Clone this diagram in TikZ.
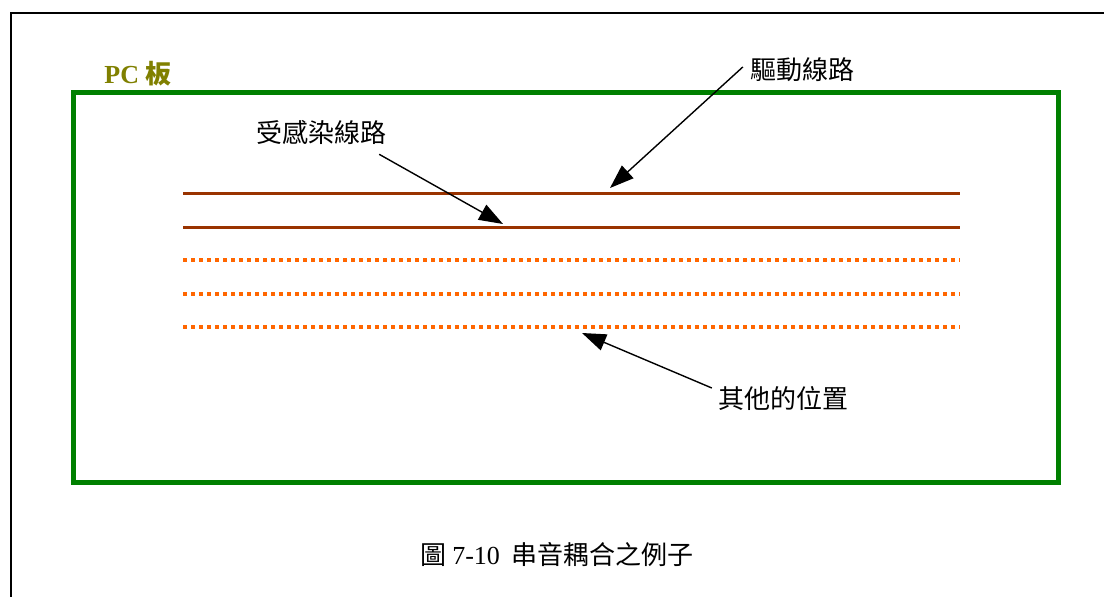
\documentclass[tikz,border=0pt]{standalone}
\usepackage{fontspec}
\setmainfont{Liberation Serif}
\newfontfamily\cjk{Noto Sans CJK TC}
\usepackage{xcolor}
\usetikzlibrary{arrows.meta,positioning,calc}
\definecolor{boardgreen}{RGB}{0,128,0}
\definecolor{boardolive}{RGB}{128,128,0}
\definecolor{tracebrown}{RGB}{153,51,0}
\definecolor{traceorange}{RGB}{255,102,0}

\begin{document}
\begin{tikzpicture}[
            x=1pt, y=-1pt,
            every node/.style={font=\fontsize{26}{30}\selectfont\cjk, inner sep=0pt},
            board/.style={draw=boardgreen, line width=5pt},
            trace/.style={draw=tracebrown, line width=3pt},
            otrace/.style={draw=traceorange, line width=3.5pt, dash pattern=on 3.5pt off 4.5pt},
            pointer/.style={draw, line width=1.4pt, -{Triangle[length=24pt,width=17pt]}},
        ]
            \useasboundingbox (0,0) rectangle (1104,597);
            \draw[line width=2pt] (11,597) -- (11,13) -- (1104,13);
            \draw[board] (73,92) rectangle (1058,482);

            % traces
            \draw[trace] (183,193) -- (960,193);
            \draw[trace] (183,227) -- (960,227);
            \foreach \y in {260,294,327}
                \draw[otrace] (183,\y) -- (960,\y);

            \node[text=boardolive, font=\fontsize{26}{30}\selectfont\bfseries] (pc) at (138,74) {PC {\cjk 板}};
            \node (drive) at (802,70) {驅動線路};
            \node (victim) at (321,133) {受感染線路};
            \node (other) at (783,398) {其他的位置};
            \node (caption) at (557,555) {圖 {\rmfamily 7-10}\ \ 串音耦合之例子};

            \coordinate (drivetip) at (610,188);
            \coordinate (victimtip) at (503,224);
            \coordinate (othertip) at (582,333);

            \draw[pointer] ([xshift=-7pt,yshift=3pt]drive.west) -- (drivetip);
            \draw[pointer] ([xshift=-7pt,yshift=-9pt]victim.south east) -- (victimtip);
            \draw[pointer] ([xshift=-6pt,yshift=10pt]other.west) -- (othertip);
        \end{tikzpicture}
\end{document}
